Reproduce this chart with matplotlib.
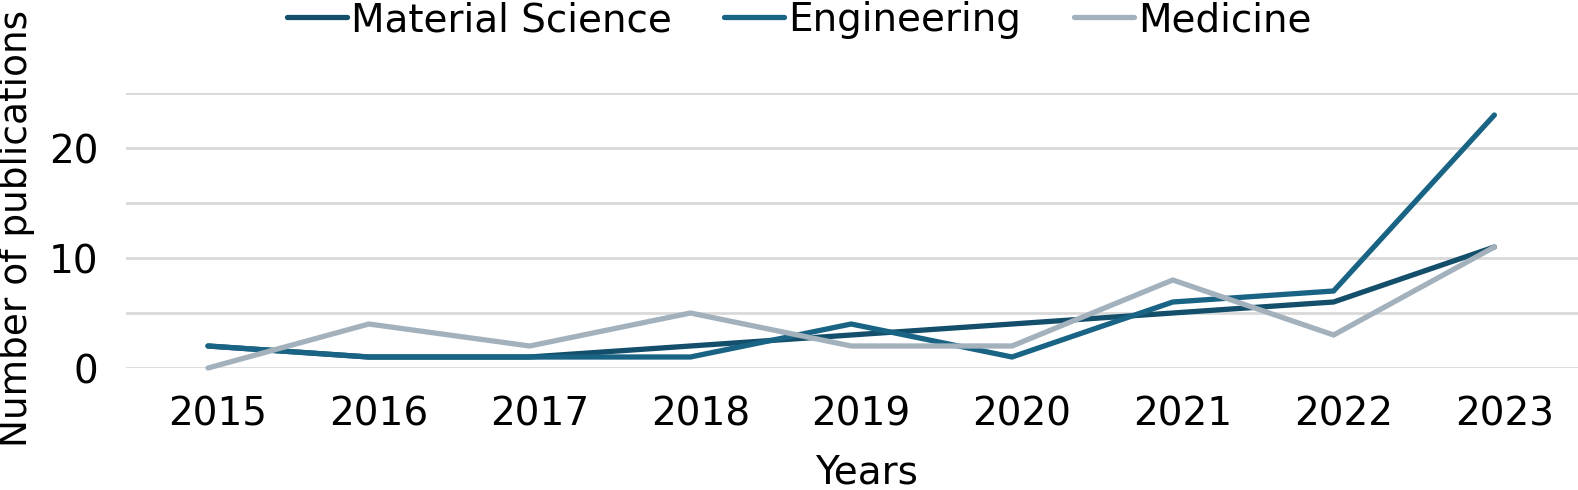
import matplotlib
matplotlib.use("Agg")
import matplotlib.pyplot as plt
from matplotlib.transforms import ScaledTranslation

years = ["2015", "2016", "2017", "2018", "2019", "2020", "2021", "2022", "2023"]
material_science = [2, 1, 1, 2, 3, 4, 5, 6, 11]
engineering = [2, 1, 1, 1, 4, 1, 6, 7, 23]
medicine = [0, 4, 2, 5, 2, 2, 8, 3, 11]

plt.rcParams['font.family'] = ['DejaVu Sans']

W, H = 1578, 490
fig = plt.figure(figsize=(W / 100, H / 100), dpi=100)
ax_left, ax_right, ax_bottom, ax_top = 126, 1578, 368, 93
ax = fig.add_axes([ax_left / W, (H - ax_bottom) / H, (ax_right - ax_left) / W, (ax_bottom - ax_top) / H])

x = range(len(years))
series = [("Material Science", material_science, "#134f6b"),
          ("Engineering", engineering, "#196384"),
          ("Medicine", medicine, "#a3b1bd")]
for name, vals, col in series:
    ax.plot(x, vals, color=col, lw=3.8, label=name, solid_capstyle='round',
            solid_joinstyle='miter', clip_on=False, zorder=3)

ax.set_xlim(-0.51, 8.52)
ax.set_ylim(0, 25)
ax.set_yticks([0, 5, 10, 15, 20, 25])
ax.set_yticklabels(["0", "", "10", "", "20", ""])
ax.set_xticks(list(x))
ax.set_xticklabels(years)
ax.grid(axis='y', color='#d9d9d9', lw=2)
ax.set_axisbelow(True)
for s in ax.spines.values():
    s.set_visible(False)
FS = 28
ax.tick_params(axis='both', length=0, labelsize=FS)
ax.tick_params(axis='x', pad=20)
ax.tick_params(axis='y', pad=20)
off = ScaledTranslation(10 / 100, 0, fig.dpi_scale_trans)
for lbl in ax.get_xticklabels():
    lbl.set_transform(lbl.get_transform() + off)

fig.text(866 / W, 1 - 472 / H, "Years", fontsize=FS, ha='center', va='center')
fig.text(17 / W, 1 - 228 / H, "Number of publications", fontsize=27, rotation=90,
         ha='center', va='center')

fig.legend(loc='center', bbox_to_anchor=(0.5 + 10 / W, 1 - 20 / H), ncol=3, frameon=False,
           fontsize=FS, handlelength=1.55, handletextpad=0.1, columnspacing=1.35,
           borderpad=0, borderaxespad=0)

fig.savefig("out.png", dpi=100)
